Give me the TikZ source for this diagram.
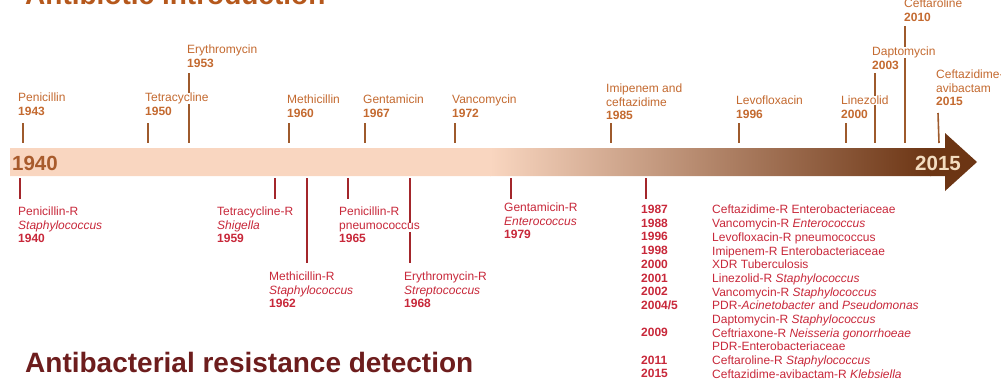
\documentclass[tikz,border=0pt]{standalone}
\usepackage{fontspec}
\setmainfont{Liberation Sans}
\definecolor{topc}{HTML}{C46A30}
\definecolor{toptk}{HTML}{9E5A2C}
\definecolor{botc}{HTML}{C8283A}
\definecolor{bottk}{HTML}{A3262B}
\definecolor{peach}{HTML}{F9D6C0}
\definecolor{darkb}{HTML}{6C3514}
\definecolor{ttl}{HTML}{B5581C}
\definecolor{ttlb}{HTML}{6D1D1D}
\definecolor{cream}{HTML}{F3DCC0}
\definecolor{yrbar}{HTML}{A85B2C}
\setlength{\fboxsep}{0pt}
\newcommand{\wl}[1]{\colorbox{white}{#1}}
\newcommand{\yr}[1]{\colorbox{white}{\textbf{#1}}}
\begin{document}
\begin{tikzpicture}[x=1pt,y=-1pt,
  lbl/.style={anchor=north west,inner sep=0pt,align=left,font=\fontsize{12}{13.5}\selectfont},
  toplbl/.style={lbl,text=topc},
  botlbl/.style={lbl,text=botc},
  toptick/.style={draw=toptk,line width=1.6pt},
  bottick/.style={draw=bottk,line width=1.6pt},
  bigtitle/.style={anchor=base west,inner sep=0pt,font=\fontsize{28}{30}\selectfont\bfseries},
  baryear/.style={anchor=base west,inner sep=0pt,font=\fontsize{20.5}{22}\selectfont\bfseries}]
\useasboundingbox (0,0) rectangle (1001,378);
\clip (0,0) rectangle (1001,378);

% timeline arrow
\begin{scope}
  \clip (10,148) -- (945,148) -- (945,133) -- (977,162) -- (945,191) -- (945,176) -- (10,176) -- cycle;
  \fill[peach] (9,130) rectangle (491,195);
  \shade[left color=peach,right color=darkb] (490,130) rectangle (931,195);
  \fill[darkb] (930,130) rectangle (980,195);
\end{scope}
\node[baryear,text=yrbar] (y1940) at (12,170) {1940};
\node[baryear,text=cream] (y2015) at (915,170) {2015};

% tick coordinates (top)
\coordinate (penT) at (23,123);  \coordinate (penB) at (23,143);
\coordinate (tetT) at (148,123); \coordinate (tetB) at (148,143);
\coordinate (eryT) at (189,73);  \coordinate (eryB) at (189,143);
\coordinate (metT) at (289,123); \coordinate (metB) at (289,143);
\coordinate (genT) at (365,123); \coordinate (genB) at (365,143);
\coordinate (vanT) at (455,123); \coordinate (vanB) at (455,143);
\coordinate (imiT) at (611,123); \coordinate (imiB) at (611,143);
\coordinate (levT) at (739,123); \coordinate (levB) at (739,143);
\coordinate (linT) at (846,123); \coordinate (linB) at (846,143);
\coordinate (dapT) at (875,73);  \coordinate (dapB) at (875,143);
\coordinate (cefT) at (905,26);  \coordinate (cefB) at (905,143);
\coordinate (cazT) at (938,113); \coordinate (cazB) at (939,143);
\foreach \n in {pen,tet,ery,met,gen,van,imi,lev,lin,dap,cef,caz}
  \draw[toptick] (\n T) -- (\n B);

% tick coordinates (bottom)
\coordinate (penRT) at (20,178);  \coordinate (penRB) at (20,199);
\coordinate (tetRT) at (275,178); \coordinate (tetRB) at (275,199);
\coordinate (metRT) at (307,178); \coordinate (metRB) at (307,263);
\coordinate (pnRT) at (348,178);  \coordinate (pnRB) at (348,199);
\coordinate (eryRT) at (410,178); \coordinate (eryRB) at (410,263);
\coordinate (genRT) at (511,178); \coordinate (genRB) at (511,199);
\coordinate (lstT) at (646,178);  \coordinate (lstB) at (646,199);
\foreach \n in {penR,tetR,metR,pnR,eryR,genR,lst}
  \draw[bottick] (\n T) -- (\n B);

% top labels
\node[toplbl] (pen) at (18,93)  {\wl{Penicillin}\\\yr{1943}};
\node[toplbl] (tet) at (145,93) {\wl{Tetracycline}\\\yr{1950}};
\node[toplbl] (ery) at (187,45) {\wl{Erythromycin}\\\yr{1953}};
\node[toplbl] (met) at (287,95) {\wl{Methicillin}\\\yr{1960}};
\node[toplbl] (gen) at (363,95) {\wl{Gentamicin}\\\yr{1967}};
\node[toplbl] (van) at (452,95) {\wl{Vancomycin}\\\yr{1972}};
\node[toplbl] (imi) at (606,84) {\wl{Imipenem and}\\\wl{ceftazidime}\\\yr{1985}};
\node[toplbl] (lev) at (736,96) {\wl{Levofloxacin}\\\yr{1996}};
\node[toplbl] (lin) at (841,96) {\wl{Linezolid}\\\yr{2000}};
\node[toplbl] (dap) at (872,47) {\wl{Daptomycin}\\\yr{2003}};
\node[toplbl] (cef) at (904,-1) {\wl{Ceftaroline}\\\yr{2010}};
\node[toplbl] (caz) at (936,70) {\wl{Ceftazidime-}\\\wl{avibactam}\\\yr{2015}};

% bottom labels
\node[botlbl] (penR) at (18,207)  {\wl{Penicillin-R}\\\wl{\textit{Staphylococcus}}\\\yr{1940}};
\node[botlbl] (tetR) at (217,207) {\wl{Tetracycline-R}\\\wl{\textit{Shigella}}\\\yr{1959}};
\node[botlbl] (metR) at (269,272) {\wl{Methicillin-R}\\\wl{\textit{Staphylococcus}}\\\yr{1962}};
\node[botlbl] (pnR)  at (339,207) {\wl{Penicillin-R}\\\wl{pneumococcus}\\\yr{1965}};
\node[botlbl] (eryR) at (404,272) {\wl{Erythromycin-R}\\\wl{\textit{Streptococcus}}\\\yr{1968}};
\node[botlbl] (genR) at (504,203) {\wl{Gentamicin-R}\\\wl{\textit{Enterococcus}}\\\yr{1979}};

\node[botlbl,font=\fontsize{12}{13.7}\selectfont\bfseries] (lstY) at (641,205)
  {1987\\1988\\1996\\1998\\2000\\2001\\2002\\2004/5\\\mbox{}\\2009\\\mbox{}\\2011\\2015};
\node[botlbl,font=\fontsize{12}{13.7}\selectfont] (lstD) at (712,205)
  {Ceftazidime-R Enterobacteriaceae\\
   Vancomycin-R \textit{Enterococcus}\\
   Levofloxacin-R pneumococcus\\
   Imipenem-R Enterobacteriaceae\\
   XDR Tuberculosis\\
   Linezolid-R \textit{Staphylococcus}\\
   Vancomycin-R \textit{Staphylococcus}\\
   PDR-\textit{Acinetobacter} and \textit{Pseudomonas}\\
   Daptomycin-R \textit{Staphylococcus}\\
   Ceftriaxone-R \textit{Neisseria gonorrhoeae}\\
   PDR-Enterobacteriaceae\\
   Ceftaroline-R \textit{Staphylococcus}\\
   Ceftazidime-avibactam-R \textit{Klebsiella}};

% titles
\node[bigtitle,text=ttl] (t1) at (25,4) {Antibiotic introduction};
\node[bigtitle,text=ttlb] (t2) at (25,372) {Antibacterial resistance detection};
\end{tikzpicture}
\end{document}
